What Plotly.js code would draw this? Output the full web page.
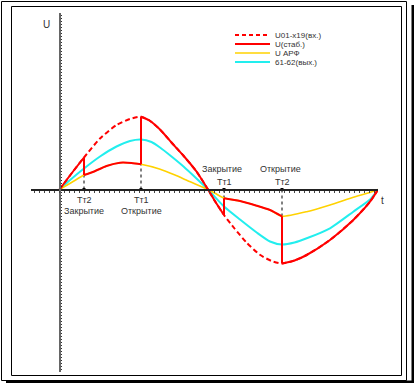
<!DOCTYPE html>
<html>
<head>
<meta charset="utf-8">
<script src="https://cdn.plot.ly/plotly-3.0.1.min.js"></script>
<style>html,body{margin:0;padding:0;background:#fff;}#chart{width:414px;height:383px;}</style>
</head>
<body>
<div id="chart"></div>
<script>
// ---- data (t: time units, U: voltage units) ----
const seriesNames = ['U01-x19(вх.)', 'U(стаб.)', 'U АРФ', '61-62(вых.)'];

const tIn  = [0, 12, 24.5, 40.5, 57, 70.5, 81.5, 90, 100.5, 112, 123.8, 137, 148.5, 156, 164.5, 175, 187, 200, 212, 222.5, 235, 247.2, 270.5, 293.8, 310.5, 318.5];
const uIn  = [0, 16, 32, 51, 64.5, 70.5, 72.8, 69, 60, 47, 34, 18, 0, -12.5, -25.5, -39, -53, -65, -71.5, -74, -71, -65.5, -50.5, -30.5, -12.2, 0];

const tStab = [0, 12, 24.5, 24.5, 34, 47, 60.5, 72, 81.5, 81.5, 90, 100.5, 112, 123.8, 137, 148.5, 156, 164.5, 164.5, 180.5, 197.2, 210.5, 222.5, 222.5, 235, 247.2, 270.5, 293.8, 310.5, 318.5];
const uStab = [0, 16, 32, 14.5, 17.8, 23.5, 26.8, 26.5, 25.2, 72.8, 69, 60, 47, 34, 18, 0, -12.5, -25.5, -8.8, -11.5, -16.2, -20.5, -26.8, -74, -71, -65.5, -50.5, -30.5, -12.2, 0];

const tArf = [0, 12, 24.5, 34, 47, 60.5, 72, 81.5, 100, 115.5, 130, 148.5, 156, 164.5, 180.5, 197.2, 210.5, 222.5, 247.2, 270.5, 293.8, 310.5, 318.5];
const uArf = [0, 7, 14.5, 17.8, 23.5, 26.8, 26.5, 25.2, 20.5, 14.5, 8, 0, -4, -8.5, -11.5, -16.2, -20.5, -26.8, -22.2, -15.5, -7.8, -3, 0];

const tOut = [0, 10, 24.5, 40.5, 57, 70.5, 81.5, 92, 100.5, 112, 124, 137, 148.5, 164.5, 180.5, 197.2, 210.5, 222.5, 235, 247.2, 270.5, 293.8, 310.5, 318.5];
const uOut = [0, 9, 21, 33, 43, 48.5, 50, 47.5, 42, 33, 23, 11, 0, -17, -30, -43, -52, -55, -53, -48.8, -38.8, -22.2, -10, 0];

// switching moments
const markT = [24.5, 81.5, 164.5, 222.5];
const markU = [32, 72.8, -8.8, -26.8];
const markName = ['Тт2', 'Тт1', 'Тт1', 'Тт2'];
const markAction = ['Закрытие', 'Открытие', 'Закрытие', 'Открытие'];
const axisLabelU = 'U';
const axisLabelT = 't';

// ---- styles ----
const W = 414, H = 383;
const px = x => x / W;
const py = y => 1 - y / H;
const FONT = 'Liberation Sans, Arial, sans-serif';
const colors = ['#ff0000', '#ff0000', '#ffd200', '#22eeee'];
const dashes = ['5px,3px', 'solid', 'solid', 'solid'];
const widths = [2, 2, 1.6, 2];

// split the stabilised curve into smooth pieces and vertical jumps
const stabSmoothX = [], stabSmoothY = [], stabJumpX = [], stabJumpY = [];
tStab.forEach((t, i) => {
  if (i > 0 && t === tStab[i - 1]) {
    stabSmoothX.push(null); stabSmoothY.push(null);
    stabJumpX.push(tStab[i - 1], t, null); stabJumpY.push(uStab[i - 1], uStab[i], null);
  }
  stabSmoothX.push(t); stabSmoothY.push(uStab[i]);
});

const traces = [];
// dotted guide lines
markT.forEach((t, i) => {
  traces.push({x: [t, t], y: [0, markU[i]], mode: 'lines', line: {color: '#000', width: 1, dash: 'dot'}, hoverinfo: 'skip', showlegend: false});
});
traces.push({x: tOut, y: uOut, name: seriesNames[3], mode: 'lines', line: {color: colors[3], width: widths[3], shape: 'spline', smoothing: 0.6}, showlegend: false});
traces.push({x: tArf, y: uArf, name: seriesNames[2], mode: 'lines', line: {color: colors[2], width: widths[2], shape: 'spline', smoothing: 0.5}, showlegend: false});
traces.push({x: tIn, y: uIn, name: seriesNames[0], mode: 'lines', line: {color: colors[0], width: widths[0], dash: dashes[0], shape: 'spline', smoothing: 0.6}, showlegend: false});
traces.push({x: stabSmoothX, y: stabSmoothY, name: seriesNames[1], mode: 'lines', connectgaps: false, line: {color: colors[1], width: widths[1], shape: 'spline', smoothing: 0.6}, showlegend: false});
traces.push({x: stabJumpX, y: stabJumpY, name: seriesNames[1], mode: 'lines', connectgaps: false, line: {color: colors[1], width: widths[1]}, showlegend: false});
traces.push({x: markT, y: markT.map(() => 0), mode: 'markers', marker: {symbol: 'square', size: 3, color: '#000'}, showlegend: false, hoverinfo: 'skip'});

const shapes = [
  // frame
  {type: 'rect', xref: 'paper', yref: 'paper', x0: px(1.5), x1: px(406.5), y0: py(1.5), y1: py(380.5), line: {color: '#000', width: 1}},
  {type: 'rect', xref: 'paper', yref: 'paper', x0: px(11.5), x1: px(401.5), y0: py(6.5), y1: py(375.5), line: {color: '#000', width: 1}},
  {type: 'line', xref: 'paper', yref: 'paper', x0: px(413), x1: px(413), y0: py(5), y1: py(383), line: {color: '#000', width: 3}},
  {type: 'line', xref: 'paper', yref: 'paper', x0: px(6), x1: px(414), y0: py(382), y1: py(382), line: {color: '#000', width: 3}},
];
const annotations = [];
// legend
const legendRows = [35, 44, 53, 62];
seriesNames.forEach((name, i) => {
  shapes.push({type: 'line', xref: 'paper', yref: 'paper', x0: px(235), x1: px(270), y0: py(legendRows[i]), y1: py(legendRows[i]),
    line: {color: colors[i], width: widths[i], dash: dashes[i] === 'solid' ? 'solid' : '4px,3px'}});
  annotations.push({xref: 'paper', yref: 'paper', x: px(273), y: py(legendRows[i]), text: name, showarrow: false,
    xanchor: 'left', yanchor: 'middle', font: {family: FONT, size: 8, color: '#333'}});
});
// switching labels
markT.forEach((t, i) => {
  const below = markU[i] > 0;
  annotations.push({x: t, y: 0, text: markName[i], showarrow: false, xanchor: 'center', yanchor: 'middle',
    yshift: below ? -10 : 8, font: {family: FONT, size: 9, color: '#333'}});
  annotations.push({x: t, y: 0, text: markAction[i], showarrow: false, xanchor: 'center', yanchor: 'middle',
    yshift: below ? -21 : 21, xshift: below ? 0 : -2, font: {family: FONT, size: 9, color: '#333'}});
});
annotations.push({xref: 'paper', yref: 'paper', x: px(46.5), y: py(25), text: axisLabelU, showarrow: false, xanchor: 'center', yanchor: 'middle', font: {family: FONT, size: 10, color: '#333'}});
annotations.push({xref: 'paper', yref: 'paper', x: px(382.5), y: py(200), text: axisLabelT, showarrow: false, xanchor: 'center', yanchor: 'middle', font: {family: FONT, size: 10, color: '#333'}});

const layout = {
  width: W, height: H,
  margin: {l: 0, r: 0, t: 0, b: 0},
  paper_bgcolor: '#fff', plot_bgcolor: 'rgba(0,0,0,0)',
  showlegend: false,
  xaxis: {domain: [px(31), px(378)], range: [-28.5, 318.5], anchor: 'free', position: py(189.5),
    showline: true, linecolor: '#222', linewidth: 2, showgrid: false, zeroline: false,
    ticks: 'outside', ticklen: 2, tickwidth: 1, tickcolor: '#444', tick0: 0, dtick: 5, showticklabels: false},
  yaxis: {domain: [py(372), py(13)], range: [189.5 - 372, 189.5 - 13], anchor: 'free', position: px(59.5),
    showline: true, linecolor: '#666', linewidth: 2, showgrid: false, zeroline: false,
    ticks: 'inside', ticklen: 1, tickwidth: 1, tickcolor: '#333', dtick: 3, showticklabels: false},
  shapes: shapes,
  annotations: annotations
};

Plotly.newPlot('chart', traces, layout, {displayModeBar: false, staticPlot: true});
</script>
</body>
</html>
